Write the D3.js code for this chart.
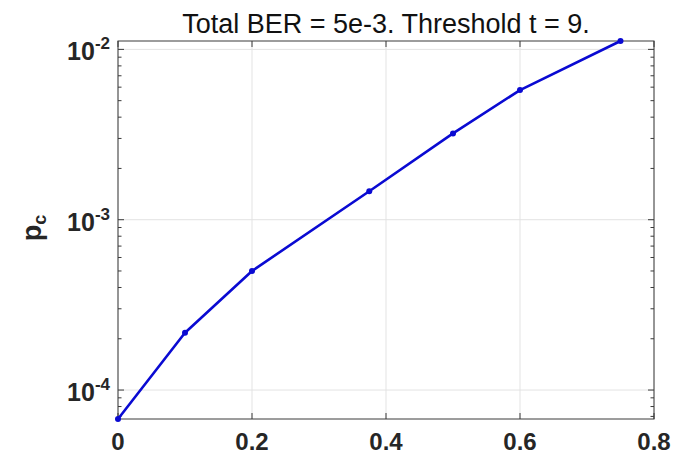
<!DOCTYPE html>
<html>
<head>
<meta charset="utf-8">
<script src="https://cdn.jsdelivr.net/npm/d3@7"></script>
<style>
  body { margin: 0; background: #fff; }
  svg { display: block; font-family: "Liberation Sans", Arial, Helvetica, sans-serif; }
</style>
</head>
<body>
<svg width="675" height="455"></svg>
<script>
// data
var xValues = [0, 0.1, 0.2, 0.375, 0.5, 0.6, 0.75];
var pcValues = [6.76e-5, 2.17e-4, 5.0e-4, 1.47e-3, 3.21e-3, 5.77e-3, 1.12e-2];
var xTicks = [0, 0.2, 0.4, 0.6, 0.8];
var xTickLabels = ["0", "0.2", "0.4", "0.6", "0.8"];
var yTicks = [1e-4, 1e-3, 1e-2];
var yTickExponents = ["-4", "-3", "-2"];
var titleText = "Total BER = 5e-3. Threshold t = 9.";

var svg = d3.select('svg');

// axes box
var box = {l: 118, r: 654, t: 41, b: 419};
var axisColor = "#3a3a3a";
var gridColor = "#e3e3e3";
var lineColor = "#0a0ad2";

var x = d3.scaleLinear().domain([0, 0.8]).range([box.l, box.r]);
var y = d3.scaleLog().domain([d3.min(pcValues), d3.max(pcValues)]).range([box.b, box.t]);

// minor ticks for the log axis
var minorTicks = [];
[-5, -4, -3, -2].forEach(function(k) {
    for (var m = 2; m <= 9; m++) {
        var v = m * Math.pow(10, k);
        if (v >= y.domain()[0] && v <= y.domain()[1]) minorTicks.push(v);
    }
});

// grid
var grid = svg.append('g');
grid.selectAll('.gx')
    .data(xTicks)
    .enter().append('line')
    .attr('x1', function(d) { return x(d); })
    .attr('x2', function(d) { return x(d); })
    .attr('y1', box.t).attr('y2', box.b)
    .attr('stroke', gridColor).attr('stroke-width', 1);
grid.selectAll('.gy')
    .data(yTicks)
    .enter().append('line')
    .attr('x1', box.l).attr('x2', box.r)
    .attr('y1', function(d) { return y(d); })
    .attr('y2', function(d) { return y(d); })
    .attr('stroke', gridColor).attr('stroke-width', 1);

// ticks (inside, on all four sides)
var ticks = svg.append('g').attr('stroke', axisColor).attr('stroke-width', 1);
xTicks.forEach(function(d) {
    ticks.append('line').attr('x1', x(d)).attr('x2', x(d)).attr('y1', box.b).attr('y2', box.b - 6);
    ticks.append('line').attr('x1', x(d)).attr('x2', x(d)).attr('y1', box.t).attr('y2', box.t + 6);
});
yTicks.forEach(function(d) {
    ticks.append('line').attr('x1', box.l).attr('x2', box.l + 6).attr('y1', y(d)).attr('y2', y(d));
    ticks.append('line').attr('x1', box.r).attr('x2', box.r - 6).attr('y1', y(d)).attr('y2', y(d));
});
minorTicks.forEach(function(d) {
    ticks.append('line').attr('x1', box.l).attr('x2', box.l + 3.5).attr('y1', y(d)).attr('y2', y(d));
    ticks.append('line').attr('x1', box.r).attr('x2', box.r - 3.5).attr('y1', y(d)).attr('y2', y(d));
});

// box outline
svg.append('rect')
    .attr('x', box.l).attr('y', box.t)
    .attr('width', box.r - box.l).attr('height', box.b - box.t)
    .attr('fill', 'none').attr('stroke', axisColor).attr('stroke-width', 1);

// x tick labels
svg.append('g').selectAll('text')
    .data(xTicks)
    .enter().append('text')
    .attr('x', function(d) { return x(d); })
    .attr('y', 450)
    .attr('text-anchor', 'middle')
    .attr('font-size', '24px')
    .attr('font-weight', 'bold')
    .attr('fill', '#262626')
    .text(function(d, i) { return xTickLabels[i]; });

// y tick labels (10 with superscript exponent)
var yLab = svg.append('g').selectAll('text')
    .data(yTicks)
    .enter().append('text')
    .attr('x', 110)
    .attr('y', function(d) { return y(d) + 11; })
    .attr('text-anchor', 'end')
    .attr('font-weight', 'bold')
    .attr('fill', '#262626');
yLab.append('tspan').attr('font-size', '25px').text('10');
yLab.append('tspan').attr('font-size', '17px').attr('dy', -11)
    .text(function(d, i) { return yTickExponents[i]; });

// y axis label p_c
var ylabel = svg.append('text')
    .attr('transform', 'translate(41,228) rotate(-90)')
    .attr('text-anchor', 'middle')
    .attr('font-weight', 'bold')
    .attr('fill', '#262626');
ylabel.append('tspan').attr('font-size', '27px').text('p');
ylabel.append('tspan').attr('font-size', '18px').attr('dy', 5).text('c');

// title
svg.append('text')
    .attr('x', (box.l + box.r) / 2)
    .attr('y', 33)
    .attr('text-anchor', 'middle')
    .attr('font-size', '27px')
    .attr('fill', '#111')
    .text(titleText);

// line + markers
var pts = xValues.map(function(d, i) { return [d, pcValues[i]]; });
var line = d3.line()
    .x(function(d) { return x(d[0]); })
    .y(function(d) { return y(d[1]); });
svg.append('path')
    .datum(pts)
    .attr('d', line)
    .attr('fill', 'none')
    .attr('stroke', lineColor)
    .attr('stroke-width', 2.6)
    .attr('stroke-linejoin', 'round');
svg.append('g').selectAll('circle')
    .data(pts)
    .enter().append('circle')
    .attr('cx', function(d) { return x(d[0]); })
    .attr('cy', function(d) { return y(d[1]); })
    .attr('r', 3)
    .attr('fill', lineColor);
</script>
</body>
</html>
